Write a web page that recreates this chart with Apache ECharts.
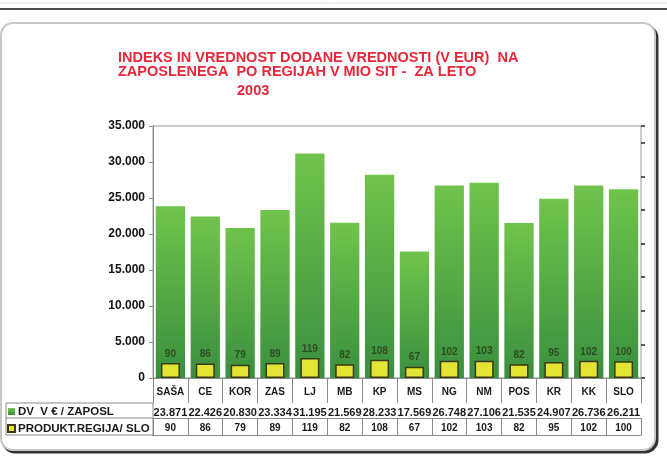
<!DOCTYPE html>
<html>
<head>
<meta charset="utf-8">
<script src="https://cdn.jsdelivr.net/npm/echarts@6/dist/echarts.min.js"></script>
<style>
  html, body { margin: 0; padding: 0; background: #fff; }
  #chart { width: 667px; height: 457px; }
</style>
</head>
<body>
<div id="chart"></div>
<script>
// podatki po regijah
const regije = ['SAŠA', 'CE', 'KOR', 'ZAS', 'LJ', 'MB', 'KP', 'MS', 'NG', 'NM', 'POS', 'KR', 'KK', 'SLO']
const dvNaZaposlenega = [23871, 22426, 20830, 23334, 31195, 21569, 28233, 17569, 26748, 27106, 21535, 24907, 26736, 26211]
const indeksProdukt = [90, 86, 79, 89, 119, 82, 108, 67, 102, 103, 82, 95, 102, 100]
const imeDv = 'DV  V € / ZAPOSL'
const imeIndeks = 'PRODUKT.REGIJA/ SLO'

// 23871 -> 23.871
const fmt = (v) => String(v).replace(/\B(?=(\d{3})+(?!\d))/g, '.')

const FONT = 'Liberation Sans, Arial, sans-serif'
const lineCol = '#8a8a8a'
const red = '#e5283a'

const chart = echarts.init(document.getElementById('chart'))

const tableAxis = (data, offset, tickLen, margin, fontSize) => ({
  type: 'category',
  position: 'bottom',
  gridIndex: 0,
  data: data,
  offset: offset,
  axisLine: { show: true, lineStyle: { color: lineCol, width: 1 } },
  axisTick: { show: tickLen > 0, length: tickLen, alignWithLabel: false, lineStyle: { color: lineCol } },
  axisLabel: {
    show: true,
    interval: 0,
    margin: margin,
    fontFamily: FONT,
    fontWeight: 'bold',
    fontSize: fontSize,
    color: '#1a1a1a',
  },
  splitLine: { show: false },
})

const titleStyle = { fontFamily: FONT, fontWeight: 'bold', fontSize: 14.5, color: red }

const option = {
  backgroundColor: '#fff',
  animation: false,
  title: [
    { text: 'INDEKS IN VREDNOST DODANE VREDNOSTI (V EUR)  NA', left: 118, top: 50, padding: 0, textStyle: titleStyle },
    { text: 'ZAPOSLENEGA  PO REGIJAH V MIO SIT -  ZA LETO', left: 118, top: 64, padding: 0, textStyle: titleStyle },
    { text: '2003', left: 237, top: 83, padding: 0, textStyle: titleStyle },
  ],
  legend: {
    orient: 'vertical',
    left: 7,
    top: 405,
    padding: 0,
    itemWidth: 7,
    itemHeight: 7,
    itemGap: 4,
    icon: 'rect',
    textStyle: { fontFamily: FONT, fontWeight: 'bold', fontSize: 11.5, color: '#1a1a1a', lineHeight: 13, padding: [0, 0, 0, -2] },
    data: [imeDv, imeIndeks],
  },
  grid: {
    left: 153,
    right: 26,
    top: 126,
    bottom: 79,
    show: true,
    borderColor: '#999',
    borderWidth: 1,
    outerBoundsMode: 'none',
  },
  xAxis: [
    tableAxis(regije, 0, 25, 9, 10),
    tableAxis(dvNaZaposlenega.map(fmt), 25, 15, 4, 11),
    tableAxis(indeksProdukt.map(String), 40, 17, 5, 10),
    { ...tableAxis(regije, 57, 0, 0, 10), axisLabel: { show: false } },
    { type: 'category', data: regije, show: false },
  ],
  yAxis: [
    {
      type: 'value',
      min: 0,
      max: 35000,
      interval: 5000,
      axisLine: { show: true, lineStyle: { color: lineCol } },
      axisTick: { show: true, length: 4, lineStyle: { color: lineCol } },
      splitLine: { show: false },
      axisLabel: {
        formatter: fmt,
        margin: 8,
        fontFamily: FONT,
        fontWeight: 'bold',
        fontSize: 12,
        color: '#111',
      },
    },
    {
      type: 'value',
      position: 'right',
      min: 0,
      max: 1500,
      interval: 200,
      axisLine: { show: false },
      axisTick: { show: true, length: 4, lineStyle: { color: '#222', width: 1.5 } },
      axisLabel: { show: false },
      splitLine: { show: false },
    },
  ],
  series: [
    {
      name: imeDv,
      type: 'bar',
      xAxisIndex: 0,
      yAxisIndex: 0,
      barCategoryGap: '16%',
      data: dvNaZaposlenega,
      itemStyle: {
        color: new echarts.graphic.LinearGradient(0, 0, 0, 1, [
          { offset: 0, color: '#70c44c' },
          { offset: 1, color: '#3a8f3e' },
        ]),
      },
    },
    {
      name: imeIndeks,
      type: 'bar',
      xAxisIndex: 4,
      yAxisIndex: 1,
      barWidth: 19,
      data: indeksProdukt,
      itemStyle: { color: '#e4e437', borderColor: '#3a3a14', borderWidth: 1.5 },
      label: {
        show: true,
        position: 'top',
        distance: 4,
        fontFamily: FONT,
        fontWeight: 'bold',
        fontSize: 10,
        color: '#2e4d24',
      },
    },
  ],
  graphic: [
    // okvir
    { type: 'line', z: -5, shape: { x1: 0, y1: 3, x2: 667, y2: 3 }, style: { stroke: '#ddd', lineWidth: 1 } },
    { type: 'line', z: -5, shape: { x1: 0, y1: 9, x2: 667, y2: 9 }, style: { stroke: '#4a4a4a', lineWidth: 2 } },
    { type: 'rect', z: -6, shape: { x: 3, y: 26, width: 654, height: 426, r: 12 }, style: { fill: '#333', stroke: '#333', lineWidth: 3 } },
    { type: 'rect', z: -5, shape: { x: 1, y: 23, width: 654, height: 427, r: 12 }, style: { fill: '#fff', stroke: '#c8c8c8', lineWidth: 2 } },
    // levi stolpec tabele
    { type: 'rect', z: 5, shape: { x: 6, y: 403, width: 147, height: 32 }, style: { fill: 'none', stroke: lineCol, lineWidth: 1 } },
    { type: 'line', z: 5, shape: { x1: 6, y1: 418, x2: 153, y2: 418 }, style: { stroke: lineCol, lineWidth: 1 } },
  ],
}

chart.setOption(option)
</script>
</body>
</html>
